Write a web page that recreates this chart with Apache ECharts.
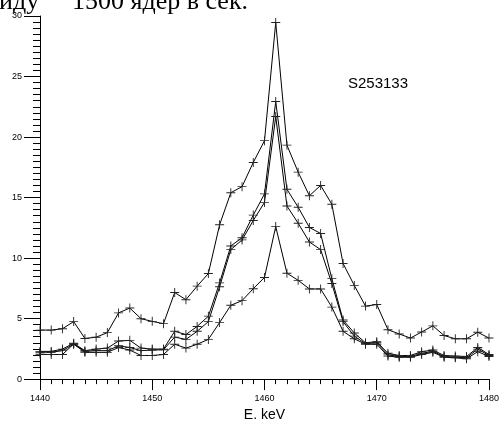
<!DOCTYPE html>
<html>
<head>
<meta charset="utf-8">
<script src="https://cdn.jsdelivr.net/npm/echarts@6/dist/echarts.min.js"></script>
<style>
html,body{margin:0;padding:0;background:#fff;}
#main{width:502px;height:427px;}
</style>
</head>
<body>
<div id="main"></div>
<script>
// energy channels, keV
var energies = [];
for (var e = 1440; e <= 1480; e++) energies.push(e);

var seriesA = [4.05,4.05,4.16,4.75,3.36,3.46,3.84,5.47,5.87,4.99,4.77,4.58,
	7.15,6.56,7.68,8.72,12.75,15.4,15.9,17.9,19.7,29.46,
	19.33,17.1,15.15,16.0,14.45,9.55,7.74,6.03,6.16,4.08,
	3.73,3.39,3.89,4.4,3.6,3.33,3.33,3.87,3.39];
var seriesB = [2.29,2.29,2.48,2.96,2.35,2.48,2.56,3.15,3.2,2.56,2.48,2.48,
	3.95,3.68,4.35,5.2,7.95,11.0,11.68,13.55,15.3,22.93,
	15.68,14.2,12.53,12.03,8.3,4.88,3.81,3.0,3.09,2.13,
	1.95,1.95,2.27,2.4,1.95,1.9,1.87,2.61,2.03];
var seriesC = [2.22,2.22,2.35,2.88,2.29,2.35,2.35,2.75,2.61,2.35,2.4,2.43,
	3.47,3.28,3.95,4.75,7.63,10.7,11.5,13.1,14.6,21.7,
	14.3,12.88,11.33,10.7,7.9,4.75,3.55,2.93,3.0,2.0,
	1.87,1.87,2.13,2.29,1.87,1.81,1.76,2.48,1.95];
var seriesD = [2.05,2.03,2.03,2.9,2.21,2.21,2.21,2.61,2.4,1.95,1.95,2.03,
	2.88,2.56,2.88,3.28,4.67,6.1,6.48,7.47,8.4,12.6,
	8.75,8.16,7.45,7.45,5.95,3.95,3.33,2.88,2.88,1.9,
	1.81,1.81,2.03,2.21,1.81,1.76,1.68,2.27,1.87];

var plus = 'path://M4.5,0H5.5V4.5H10V5.5H5.5V10H4.5V5.5H0V4.5H4.5Z';

function makeSeries(vals){
	var d = [];
	for (var i = 0; i < energies.length; i++) d.push([energies[i], vals[i]]);
	return {
		type:'line',
		data:d,
		symbol:plus,
		symbolSize:9,
		showAllSymbol:true,
		animation:false,
		lineStyle:{color:'#000', width:1},
		itemStyle:{color:'#222'}
	};
}

var myChart = echarts.init(document.getElementById('main'));
myChart.setOption({
	animation:false,
	grid:{left:40, right:10, top:16, bottom:36},
	xAxis:{
		type:'value', min:1440, max:1480, interval:10,
		name:'E. keV', nameLocation:'middle', nameGap:26,
		nameTextStyle:{fontFamily:'Liberation Sans', fontSize:14, color:'#000'},
		axisLine:{lineStyle:{color:'#000', width:1}},
		axisTick:{length:11, lineStyle:{color:'#000'}},
		minorTick:{show:true, splitNumber:10, length:5, lineStyle:{color:'#000'}},
		axisLabel:{margin:15, fontFamily:'Liberation Sans', fontSize:9, color:'#000',
			formatter:function(v){ return String(v); }},
		splitLine:{show:false}
	},
	yAxis:{
		type:'value', min:0, max:30, interval:5,
		axisLine:{show:true, lineStyle:{color:'#000', width:1}},
		axisTick:{show:true, length:16, lineStyle:{color:'#000'}},
		minorTick:{show:true, splitNumber:10, length:7, lineStyle:{color:'#000'}},
		axisLabel:{margin:18, fontFamily:'Liberation Sans', fontSize:9, color:'#000'},
		splitLine:{show:false}
	},
	graphic:[
		{type:'text', left:-1, top:-11, style:{text:'иду', font:'26px "Liberation Serif"', fill:'#000'}},
		{type:'text', left:72, top:-11, style:{text:'1500 ядер в сек.', font:'26px "Liberation Serif"', fill:'#000'}},
		{type:'text', left:348, top:76, style:{text:'S253133', font:'15px "Liberation Sans"', fill:'#000'}}
	],
	series:[makeSeries(seriesA), makeSeries(seriesB), makeSeries(seriesC), makeSeries(seriesD)]
});
</script>
</body>
</html>
